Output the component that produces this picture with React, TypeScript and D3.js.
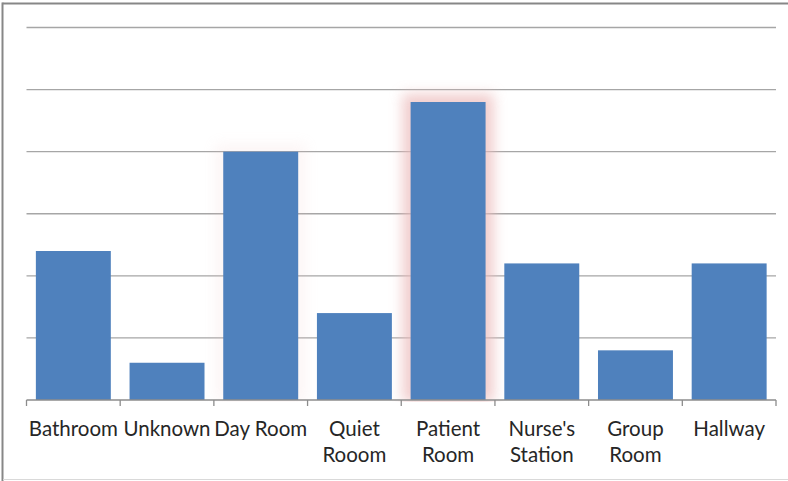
import React from "react";
import * as d3 from "d3";

const categories: string[][] = [
  ["Bathroom"],
  ["Unknown"],
  ["Day Room"],
  ["Quiet", "Rooom"],
  ["Patient", "Room"],
  ["Nurse's", "Station"],
  ["Group", "Room"],
  ["Hallway"],
];
const counts = [12, 3, 20, 7, 24, 11, 4, 11];
const gridValues = [5, 10, 15, 20, 25, 30];
// glow strength per bar (highlighted rooms)
const highlight = [0, 0, 0.18, 0, 1, 0, 0, 0];

const W = 788;
const H = 481;
const left = 26.5;
const right = 776;
const top = 27.5;
const base = 400;

export default function App() {
  const keys = categories.map((c) => c.join(" "));
  const x = d3.scaleBand<string>().domain(keys).range([left, right]).paddingInner(0.2).paddingOuter(0.1);
  const y = d3.scaleLinear().domain([0, 30]).range([base, top]);
  const step = x.step();
  const ticks = d3.range(keys.length + 1).map((i) => left + i * step);

  return (
    <svg
      width={W}
      height={H}
      style={{ position: "absolute", left: 0, top: 0, background: "#fff" }}
    >
      <defs>
        <filter id="glow" x="-50%" y="-50%" width="200%" height="200%">
          <feGaussianBlur stdDeviation="6.5" />
        </filter>
        <clipPath id="plotClip">
          <rect x={0} y={0} width={W} height={base + 2} />
        </clipPath>
      </defs>
      <rect x={0} y={0} width={W} height={H} fill="#fff" />
      {/* frame */}
      <line x1={2.5} y1={2.5} x2={2.5} y2={H} stroke="#878787" strokeWidth={2} />
      <line x1={2.5} y1={3.5} x2={W} y2={3.5} stroke="#878787" strokeWidth={2} />
      <line x1={3} y1={479.5} x2={W} y2={479.5} stroke="#d9d9d9" strokeWidth={1} />

      {/* gridlines */}
      {gridValues.map((v) => (
        <line key={v} x1={left} x2={right} y1={y(v)} y2={y(v)} stroke="#a6a6a6" strokeWidth={1.3} />
      ))}

      {/* glow behind highlighted bars */}
      <g clipPath="url(#plotClip)">
        {counts.map((c, i) =>
          highlight[i] > 0 ? (
            <rect
              key={i}
              x={x(keys[i])! - 8}
              y={y(c) - 8}
              width={x.bandwidth() + 16}
              height={base - y(c) + 10}
              fill="#ecbcbc"
              opacity={0.75 * highlight[i]}
              filter="url(#glow)"
            />
          ) : null
        )}
      </g>

      {/* bars */}
      {counts.map((c, i) => (
        <rect
          key={i}
          x={x(keys[i])}
          y={y(c)}
          width={x.bandwidth()}
          height={base - y(c)}
          fill="#4f81bd"
        />
      ))}

      {/* category axis */}
      <line x1={left} x2={right} y1={base} y2={base} stroke="#8c8c8c" strokeWidth={1.3} />
      {ticks.map((t, i) => (
        <line key={i} x1={t} x2={t} y1={base} y2={base + 6} stroke="#8c8c8c" strokeWidth={1.3} />
      ))}
      {categories.map((lines, i) => (
        <text
          key={i}
          x={x(keys[i])! + x.bandwidth() / 2}
          y={436}
          textAnchor="middle"
          fontFamily="Lato, 'Open Sans', sans-serif"
          fontSize={20.5}
          fill="#262626"
        >
          {lines.map((l, j) => (
            <tspan key={j} x={x(keys[i])! + x.bandwidth() / 2} dy={j === 0 ? 0 : 26}>
              {l}
            </tspan>
          ))}
        </text>
      ))}
    </svg>
  );
}
